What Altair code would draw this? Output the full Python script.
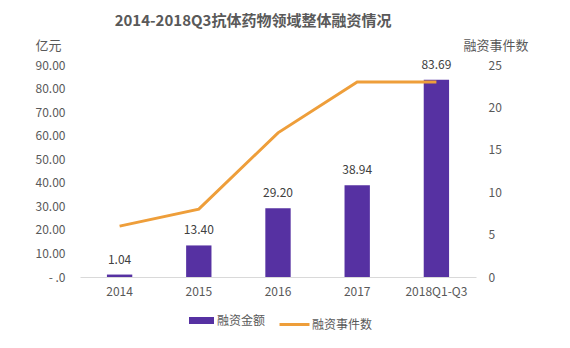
import altair as alt
import pandas as pd

categories = ["2014", "2015", "2016", "2017", "2018Q1-Q3"]
amounts = [1.04, 13.40, 29.20, 38.94, 83.69]
events = [6, 8, 17, 23, 23]
left_ticks = [0, 10, 20, 30, 40, 50, 60, 70, 80, 90]
right_ticks = [0, 5, 10, 15, 20, 25]

df = pd.DataFrame({
    "cat": categories,
    "amount": amounts,
    "events": events,
    "s1": ["融资金额"] * 5,
    "s2": ["融资事件数"] * 5,
})

FONT = "Noto Sans CJK SC"
PURPLE = "#5631A2"
ORANGE = "#EE9E3A"
GRAY = "#595959"

x = alt.X("cat:N", sort=categories, title=None,
          scale=alt.Scale(paddingInner=0.68, paddingOuter=0.34),
          axis=alt.Axis(labelAngle=0, ticks=False, domainColor="#d9d9d9",
                        labelColor=GRAY, labelFontSize=12, labelPadding=9, labelFont=FONT))

y_left = alt.Y("amount:Q", scale=alt.Scale(domain=[0, 90], nice=False),
               axis=alt.Axis(values=left_ticks, ticks=False, domain=False, grid=False,
                             labelOverlap=False,
                             labelExpr="datum.value == 0 ? '-   .0' : format(datum.value, '.2f')",
                             labelColor=GRAY, labelFontSize=12, labelPadding=15, labelFont=FONT,
                             title="亿元", titleAngle=0, titleAlign="left",
                             titleBaseline="middle", titleX=-45, titleY=-20, titleFont=FONT,
                             titleFontSize=13, titleFontWeight="normal", titleColor=GRAY))

bars = alt.Chart(df).mark_bar().encode(
    x=x,
    y=y_left,
    fill=alt.Fill("s1:N", scale=alt.Scale(domain=["融资金额"], range=[PURPLE]),
                  legend=alt.Legend(title=None, orient="none", legendX=109, legendY=243,
                                    symbolType="M-1,-0.28L1,-0.28L1,0.28L-1,0.28Z",
                                    symbolSize=625, symbolStrokeWidth=0,
                                    labelFont=FONT, labelFontSize=12, labelColor=GRAY,
                                    labelOffset=3)),
)

labels = alt.Chart(df).mark_text(baseline="bottom", dy=-8, fontSize=12, color="#404040",
                                 font=FONT).encode(
    x=x,
    y=y_left,
    text=alt.Text("amount:Q", format=".2f"),
)

line = alt.Chart(df).mark_line(strokeWidth=3).encode(
    x=x,
    y=alt.Y("events:Q", scale=alt.Scale(domain=[0, 25], nice=False),
            axis=alt.Axis(orient="right", values=right_ticks, ticks=False, domain=False,
                          grid=False, labelOverlap=False, labelColor=GRAY, labelFontSize=12,
                          labelPadding=12, labelFont=FONT,
                          title="融资事件数", titleAngle=0, titleAlign="left",
                          titleBaseline="middle", titleX=-13, titleY=-20, titleFont=FONT,
                          titleFontSize=13, titleFontWeight="normal", titleColor=GRAY)),
    stroke=alt.Stroke("s2:N", scale=alt.Scale(domain=["融资事件数"], range=[ORANGE]),
                      legend=alt.Legend(title=None, orient="none", legendX=198, legendY=243,
                                        symbolType="stroke", symbolSize=900,
                                        symbolStrokeWidth=3,
                                        labelFont=FONT, labelFontSize=12, labelColor=GRAY,
                                        labelOffset=1)),
)

left = alt.layer(bars, labels)
chart = alt.layer(left, line).resolve_scale(y="independent").properties(
    width=396, height=212,
    background="white",
    autosize=alt.AutoSizeParams(type="none"),
    padding={"left": 80, "top": 65, "right": 94, "bottom": 71},
    title=alt.TitleParams("2014-2018Q3抗体药物领域整体融资情况", font=FONT, fontSize=15,
                          fontWeight="bold", color=GRAY, anchor="middle", dx=-25,
                          offset=10, frame="group"),
).configure_view(stroke=None)

chart.save("out.html", embed_options={"renderer": "svg", "actions": False})
